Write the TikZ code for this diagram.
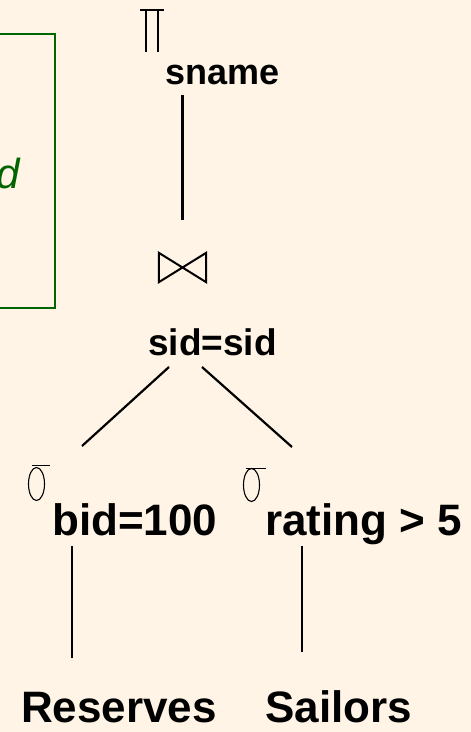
\documentclass[tikz,border=0pt]{standalone}
\usepackage{fontspec}
\setmainfont{Liberation Sans}
\usetikzlibrary{calc}
\definecolor{paper}{RGB}{255,244,230}
\definecolor{notegreen}{RGB}{0,100,0}

\begin{document}
\begin{tikzpicture}[x=1pt,y=-1pt,
  big/.style={font=\bfseries\fontsize{44}{44}\selectfont, inner sep=0, anchor=base west},
  mid/.style={font=\bfseries\fontsize{36}{36}\selectfont, inner sep=0, anchor=base west},
  edge/.style={line width=2.2pt, black},
  glyph/.style={line width=1.6pt, black},
  thinglyph/.style={line width=1.1pt, black}]

% page
\fill[paper] (0,0) rectangle (471,732);
\useasboundingbox (0,0) rectangle (471,732);

% note box running off the left edge
\draw[notegreen, line width=2.4pt] (-20,34) -| (55,308) -- (-20,308);
\node[font=\itshape\fontsize{42}{42}\selectfont, text=notegreen, inner sep=0, anchor=base east] (note) at (20,188) {d};

% operator labels
\node[mid] (sname) at (165,84) {sname};
\node[mid, font=\bfseries\fontsize{37}{37}\selectfont] (cond) at (148,355) {sid=sid};
\node[big] (bid) at (52,535) {bid=100};
\node[big] (rat) at (265,535) {rating > 5};
\node[big] (res) at (21,722) {Reserves};
\node[big] (sail) at (265,722) {Sailors};

% projection symbol
\node[minimum width=24pt, minimum height=42pt, inner sep=0] (proj) at (152,31) {};
\draw[glyph] (proj.north west) -- (proj.north east);
\draw[glyph] ($(proj.north west)+(6,0)$) -- ($(proj.south west)+(6,0)$);
\draw[glyph] ($(proj.north west)+(18,0)$) -- ($(proj.south west)+(18,0)$);

% join symbol
\node[minimum width=47pt, minimum height=29pt, inner sep=0] (join) at (182.5,267.5) {};
\draw[glyph, line width=2pt] (join.north west) -- (join.south west) -- (join.north east) -- (join.south east) -- cycle;

% selection symbols
\node[minimum width=22pt, minimum height=36pt, inner sep=0] (selA) at (39,484) {};
\draw[thinglyph] ($(selA.center)+(-2.5,0)$) ellipse [x radius=8, y radius=16.5];
\draw[thinglyph] ($(selA.north west)+(4,0)$) -- (selA.north east);
\node[minimum width=23pt, minimum height=36pt, inner sep=0] (selB) at (254.5,485) {};
\draw[thinglyph] ($(selB.center)+(-3,0)$) ellipse [x radius=8, y radius=16.5];
\draw[thinglyph] ($(selB.north west)+(3,2)$) -- ($(selB.north east)+(0,2)$);

% tree edges
\draw[edge] ($(join.north)+(0,-33)$) -- ($(sname.base west)+(17.5,11)$);
\draw[edge] ($(cond.base west)+(21,12)$) -- ($(bid.base west)+(30,-89)$);
\draw[edge] ($(cond.base west)+(54,12)$) -- ($(rat.base west)+(27,-88)$);
\draw[edge] ($(bid.base west)+(20,11)$) -- ($(res.base west)+(51,-64)$);
\draw[edge] ($(rat.base west)+(37,11)$) -- ($(sail.base west)+(37,-70)$);
\end{tikzpicture}
\end{document}
